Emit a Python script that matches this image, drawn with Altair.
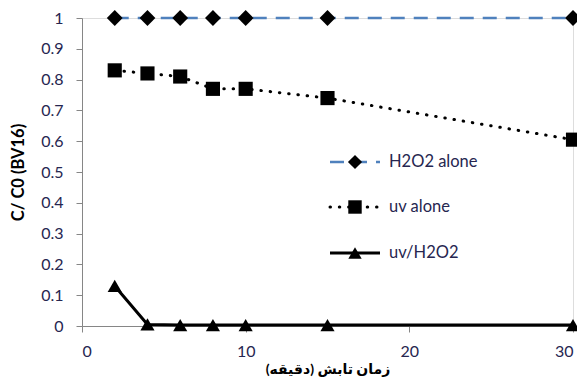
import altair as alt
import pandas as pd

time_min = [2, 4, 6, 8, 10, 15, 30]
h2o2_alone = [1, 1, 1, 1, 1, 1, 1]
uv_alone = [0.83, 0.82, 0.81, 0.77, 0.77, 0.74, 0.605]
uv_h2o2 = [0.13, 0.005, 0.003, 0.003, 0.003, 0.003, 0.003]

x_ticks = [0, 10, 20, 30]
y_ticks = [0, 0.1, 0.2, 0.3, 0.4, 0.5, 0.6, 0.7, 0.8, 0.9, 1.0]
series_names = ["H2O2 alone", "uv alone", "uv/H2O2"]

FONT = "Lato, 'DejaVu Sans', sans-serif"
LABEL_COLOR = "#262650"

df = pd.DataFrame({"t": time_min, "h": h2o2_alone, "u": uv_alone, "uh": uv_h2o2})

xs = alt.Scale(domain=[0, 30], nice=False, zero=False)
ys = alt.Scale(domain=[0, 1], nice=False)

x_axis = alt.Axis(values=x_ticks, title="زمان تابش (دقیقه)", grid=False,
                  domainColor="#868686", tickColor="#868686", tickSize=6,
                  labelPadding=11, labelFontSize=16, labelColor=LABEL_COLOR,
                  labelFont=FONT, titleFont=FONT, titleFontSize=14,
                  titleFontWeight="bold", titleColor="black", titlePadding=3,
                  labelOverlap=False)
y_axis = alt.Axis(values=y_ticks, format=".1~f", title="C/ C0 (BV16)", grid=False,
                  domainColor="#868686", tickColor="#868686", tickSize=6,
                  labelPadding=13, labelFontSize=16, labelColor=LABEL_COLOR,
                  labelFont=FONT, titleFont=FONT, titleFontSize=16.5,
                  titleFontWeight="bold", titleColor="black", titleX=-64,
                  titleBaseline="middle", labelOverlap=False)

X = alt.X("t:Q", scale=xs, axis=x_axis, title="زمان تابش (دقیقه)")

def Y(field):
    return alt.Y(field, type="quantitative", scale=ys, axis=y_axis, title="C/ C0 (BV16)")

base = alt.Chart(df)

h_line = base.mark_line(color="#4F81BD", strokeWidth=2.5, strokeDash=[14, 9]).encode(x=X, y=Y("h"))
h_pts = base.mark_point(shape="diamond", filled=True, color="black", size=250, opacity=1).encode(x=X, y=Y("h"))

u_line = base.mark_line(color="black", strokeWidth=3, strokeDash=[0.5, 8.8], strokeCap="round").encode(x=X, y=Y("u"))
u_pts = base.mark_point(shape="square", filled=True, color="black", size=200, opacity=1).encode(x=X, y=Y("u"))

uh_line = base.mark_line(color="black", strokeWidth=3).encode(x=X, y=Y("uh"))
uh_pts = base.mark_point(shape="triangle-up", filled=True, color="black", size=200, opacity=1).encode(x=X, y=Y("uh"))

# manual legend (positions in pixels relative to plot area)
leg_x1, leg_x2, leg_sym, leg_txt = 248, 298, 273, 307
leg_y = [144, 189, 235]

one = alt.Chart(pd.DataFrame({"name": [0]}))

def leg_entry(i, dash, color, shape, size, width, cap="butt"):
    kw = dict(color=color, strokeWidth=width, strokeCap=cap)
    if dash:
        kw["strokeDash"] = dash
    line = one.mark_rule(**kw).encode(
        x=alt.value(leg_x1), x2=alt.value(leg_x2), y=alt.value(leg_y[i]))
    sym = one.mark_point(shape=shape, filled=True, color="black", size=size, opacity=1).encode(
        x=alt.value(leg_sym), y=alt.value(leg_y[i]))
    txt = one.mark_text(align="left", baseline="middle", font=FONT, fontSize=16.5,
                        color=LABEL_COLOR, text=series_names[i]).encode(
        x=alt.value(leg_txt), y=alt.value(leg_y[i]))
    return [line, sym, txt]

legend_layers = (leg_entry(0, [14, 9], "#4F81BD", "diamond", 200, 2.5)
                 + leg_entry(1, [0.5, 8.8], "black", "square", 180, 3, "round")
                 + leg_entry(2, None, "black", "triangle-up", 180, 3))

chart = alt.layer(h_line, u_line, uh_line, h_pts, u_pts, uh_pts, *legend_layers).properties(
    width=491, height=308,
    autosize=alt.AutoSizeParams(type="none"),
    padding={"left": 74, "top": 10, "right": 4, "bottom": 58},
).configure_view(stroke=None).configure(background="white")

chart.save("out.html", embed_options={"renderer": "svg", "actions": False})
